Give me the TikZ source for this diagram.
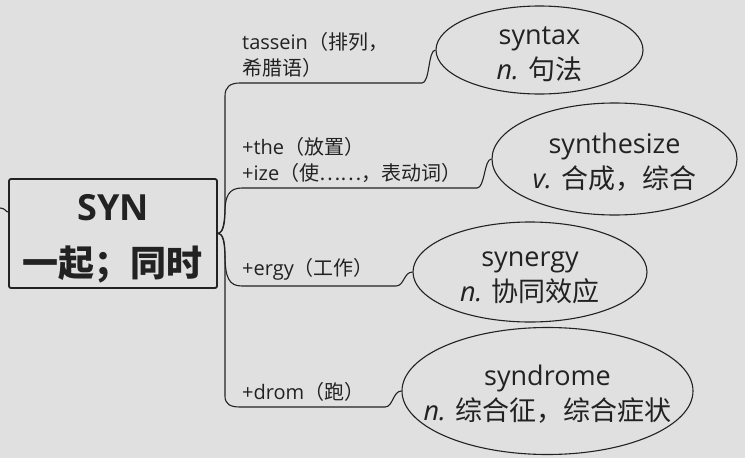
\documentclass[tikz,border=0pt]{standalone}
\usepackage{fontspec}
\setmainfont{Open Sans}
\newfontfamily\cjk{Noto Sans CJK SC}
\newcommand{\zh}[1]{{\cjk #1}}
% two centred lines that take no room, so the ellipse keeps its own size
\newcommand{\wordtext}[2]{\makebox[0pt]{\smash{\raisebox{-11pt}{\begin{tabular}{@{}c@{}}#1\\#2\end{tabular}}}}}
\usepackage{tikz}
\usetikzlibrary{shapes.geometric}
\definecolor{bgcol}{HTML}{E0E0E0}
\definecolor{inkcol}{HTML}{222222}

\begin{document}
\begin{tikzpicture}[
        x=1pt, y=-1pt,
        root/.style={
            rectangle,
            draw=inkcol,
            text=inkcol,
            line width=1.8pt,
            rounded corners=2pt,
            minimum width=208pt,
            minimum height=109pt,
            inner sep=0pt,
            align=center,
            font=\bfseries\fontsize{36}{56}\selectfont
        },
        word/.style={
            ellipse,
            draw=inkcol,
            text=inkcol,
            line width=1.1pt,
            inner sep=0pt,
            font=\fontsize{27}{35}\selectfont
        },
        affix/.style={
            anchor=south west,
            inner sep=2pt,
            text=inkcol,
            align=left,
            font=\fontsize{20}{26}\selectfont
        },
        branch/.style={draw=inkcol, line width=1.1pt}
    ]

    % Canvas
    \useasboundingbox (0,0) rectangle (745,458);
    \fill[bgcol] (0,0) rectangle (745,458);

    % Nodes
    \node[root] (syn) at (113,233.5) {\rule{0pt}{37pt}SYN\\\zh{一起；同时}};
    \node[word, minimum width=207pt, minimum height=88pt] (syntax) at (539.5,50) {\wordtext{syntax}{\textit{n.} \zh{句法}}};
    \node[word, minimum width=245pt, minimum height=112pt] (synthesize) at (614.5,159) {\wordtext{synthesize}{\textit{v.} \zh{合成，综合}}};
    \node[word, minimum width=234pt, minimum height=100pt] (synergy) at (530,272) {\wordtext{synergy}{\textit{n.} \zh{协同效应}}};
    \node[word, minimum width=291pt, minimum height=127pt] (syndrome) at (547.5,391) {\wordtext{syndrome}{\textit{n.} \zh{综合征，综合症状}}};

    % Affix labels
    \node[affix] (tassein) at (240,80) {tassein\zh{（排列，}\\\zh{希腊语）}};
    \node[affix] (the) at (240,185) {+the\zh{（放置）}\\+ize\zh{（使……，表动词）}};
    \node[affix] (ergy) at (240,283) {+ergy\zh{（工作）}};
    \node[affix] (drom) at (240,404) {+drom\zh{（跑）}};

    % Connectors
    \coordinate (inlet) at (0,208);
    \draw[branch] (inlet) .. controls (5,208) and (6,212) .. ([yshift=21.5pt]syn.west);
    \draw[branch] (syn.east) .. controls (223,233) and (225,222) .. (225,205) -- (225,96) .. controls (225,87) and (230,83) .. (240,83) -- (422,83) .. controls (430,83) and (428,50) .. (syntax.west);
    \draw[branch] (syn.east) .. controls (223,233) and (225,224) .. (225,212) .. controls (225,196) and (229,188) .. (242,188) -- (477,188) .. controls (485,188) and (484,159) .. (synthesize.west);
    \draw[branch] (syn.east) .. controls (223,233) and (225,242) .. (225,254) .. controls (225,278) and (229,286) .. (242,286) -- (396,286) .. controls (404,286) and (404,272) .. (synergy.west);
    \draw[branch] (syn.east) .. controls (223,233) and (225,244) .. (225,260) -- (225,396) .. controls (225,404) and (230,407) .. (240,407) -- (385,407) .. controls (393,407) and (393,391) .. (syndrome.west);

\end{tikzpicture}
\end{document}
